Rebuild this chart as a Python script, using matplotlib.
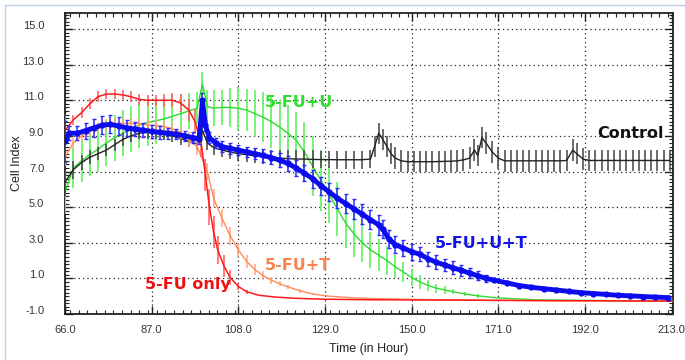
# Recrea la gráfica de Cell Index frente al tiempo (curvas de tratamiento)
import matplotlib
matplotlib.use('Agg')

import matplotlib.pyplot as plt
import matplotlib.transforms as mtransforms
from matplotlib.ticker import MultipleLocator
from matplotlib.lines import Line2D


# DATOS
# Cada punto: (tiempo en horas, cell index, barra de error)

# Control (negro)
control_pts = [
    (66, 6.4, 0.8), (68, 7.1, 0.5), (70, 7.5, 0.4), (72, 7.8, 0.4),
    (74, 8.0, 0.35), (76, 8.2, 0.35), (78, 8.5, 0.35), (80, 8.8, 0.35),
    (82, 9.0, 0.35), (84, 9.15, 0.35), (86, 9.2, 0.35), (88, 9.15, 0.35),
    (90, 9.1, 0.35), (92, 9.0, 0.35), (94, 8.85, 0.35), (96, 8.7, 0.35),
    (98, 8.55, 0.35), (99.3, 9.3, 0.4), (100.5, 8.6, 0.4), (102, 8.35, 0.4),
    (104, 8.2, 0.4), (106, 8.1, 0.4), (108, 8.0, 0.4), (110, 7.95, 0.4),
    (112, 7.88, 0.4), (114, 7.82, 0.4), (116, 7.78, 0.4), (118, 7.75, 0.45),
    (120, 7.72, 0.5), (122, 7.7, 0.5), (124, 7.7, 0.5), (126, 7.68, 0.5),
    (128, 7.67, 0.5), (130, 7.67, 0.5), (132, 7.66, 0.5), (134, 7.66, 0.5),
    (136, 7.66, 0.5), (138, 7.66, 0.5), (140, 7.7, 0.5), (141, 8.4, 0.6),
    (142, 9.15, 0.6), (143, 8.8, 0.6), (144, 8.4, 0.6), (145, 8.0, 0.6),
    (146, 7.75, 0.6), (147.5, 7.6, 0.6), (149, 7.55, 0.6), (150.5, 7.55, 0.6),
    (152, 7.55, 0.6), (153.5, 7.55, 0.6), (155, 7.55, 0.6), (156.5, 7.56, 0.6),
    (158, 7.57, 0.6), (159.5, 7.58, 0.6), (161, 7.6, 0.6), (162.5, 7.65, 0.6),
    (164, 7.75, 0.6), (165.2, 8.2, 0.6), (166, 7.9, 0.6), (167, 8.9, 0.6),
    (168, 8.6, 0.6), (169.5, 8.1, 0.6), (171, 7.75, 0.6), (172.5, 7.6, 0.6),
    (174, 7.6, 0.6), (175.5, 7.6, 0.6), (177, 7.6, 0.6), (178.5, 7.6, 0.6),
    (180, 7.6, 0.6), (181.5, 7.6, 0.6), (183, 7.6, 0.6), (184.5, 7.6, 0.6),
    (186, 7.6, 0.6), (187.5, 7.62, 0.6), (189, 8.2, 0.6), (190, 8.0, 0.6),
    (191.5, 7.7, 0.6), (193, 7.62, 0.6), (194.5, 7.62, 0.6), (196, 7.62, 0.6),
    (197.5, 7.62, 0.6), (199, 7.62, 0.6), (200.5, 7.62, 0.6), (202, 7.62, 0.6),
    (203.5, 7.62, 0.6), (205, 7.62, 0.6), (206.5, 7.62, 0.6), (208, 7.62, 0.6),
    (209.5, 7.62, 0.6), (211, 7.62, 0.6), (212.5, 7.62, 0.6),
]

# 5-FU+U (verde)
fuu_pts = [
    (66, 5.8, 1.2), (68, 7.2, 1.1), (70, 7.6, 1.2), (72, 7.95, 1.2),
    (74, 8.25, 1.3), (76, 8.6, 1.3), (78, 8.9, 1.3), (80, 9.15, 1.3),
    (82, 9.4, 1.3), (84, 9.6, 1.3), (86, 9.75, 1.3), (88, 9.85, 1.3),
    (90, 9.95, 1.2), (92, 10.1, 1.2), (94, 10.25, 1.1), (96, 10.4, 1.0),
    (98, 10.55, 0.9), (99.3, 11.9, 0.7), (100.5, 10.65, 0.9), (102, 10.55, 1.0),
    (104, 10.6, 1.0), (106, 10.6, 1.1), (108, 10.55, 1.2), (110, 10.45, 1.2),
    (112, 10.25, 1.3), (114, 10.05, 1.4), (116, 9.8, 1.5), (118, 9.5, 1.5),
    (120, 9.15, 1.6), (122, 8.75, 1.6), (124, 8.1, 1.7), (126, 7.3, 1.7),
    (128, 6.5, 1.7), (130, 5.7, 1.6), (132, 4.9, 1.5), (134, 4.1, 1.4),
    (136, 3.5, 1.3), (138, 3.0, 1.1), (140, 2.6, 1.0), (142, 2.3, 0.9),
    (144, 2.0, 0.8), (146, 1.65, 0.65), (148, 1.35, 0.55), (150, 1.05, 0.45),
    (152, 0.8, 0.38), (154, 0.6, 0.3), (156, 0.45, 0.25), (158, 0.35, 0.2),
    (160, 0.25, 0.15), (163, 0.12, 0.1), (166, 0.02, 0.1), (170, -0.08, 0),
    (175, -0.15, 0), (180, -0.2, 0), (190, -0.23, 0), (200, -0.25, 0),
    (213, -0.28, 0),
]

# 5-FU only (rojo)
fu_pts = [
    (66, 9.3, 0.9), (68, 9.9, 0.3), (70, 10.3, 0.3), (72, 10.8, 0.3),
    (74, 11.2, 0.3), (76, 11.35, 0.3), (78, 11.35, 0.3), (80, 11.3, 0.3),
    (82, 11.2, 0.3), (84, 11.05, 0.3), (86, 11.0, 0.3), (88, 11.0, 0.3),
    (90, 11.0, 0.35), (92, 11.0, 0.4), (94, 10.85, 0.5), (96, 10.45, 0.6),
    (97.5, 9.8, 0.7), (99, 8.6, 0.8), (100, 6.8, 0.9), (101, 5.0, 1.0),
    (102, 3.6, 0.9), (103, 2.6, 0.8), (104.5, 1.7, 0.6), (106, 1.05, 0.4),
    (108, 0.55, 0.2), (110, 0.25, 0.1), (113, 0.05, 0), (117, -0.05, 0),
    (122, -0.12, 0), (129, -0.17, 0), (140, -0.2, 0), (160, -0.22, 0),
    (180, -0.25, 0), (213, -0.27, 0),
]

# 5-FU+T (salmón)
fut_pts = [
    (66, 7.8, 0.5), (68, 8.6, 0.3), (70, 9.0, 0.3), (72, 9.25, 0.3),
    (74, 9.5, 0.3), (76, 9.65, 0.3), (78, 9.7, 0.3), (80, 9.7, 0.3),
    (82, 9.7, 0.3), (84, 9.68, 0.3), (86, 9.62, 0.3), (88, 9.58, 0.3),
    (90, 9.52, 0.3), (92, 9.4, 0.3), (94, 9.2, 0.35), (96, 8.8, 0.4),
    (98, 8.4, 0.5), (100.5, 7.0, 0.5), (102, 5.5, 0.5), (104, 4.4, 0.5),
    (106, 3.4, 0.5), (108, 2.6, 0.4), (110, 1.95, 0.35), (112, 1.5, 0.3),
    (114, 1.15, 0.25), (116, 0.9, 0.2), (118, 0.7, 0.15), (120, 0.52, 0.1),
    (123, 0.3, 0.1), (126, 0.12, 0.05), (130, 0.0, 0), (135, -0.08, 0),
    (140, -0.13, 0), (150, -0.18, 0), (165, -0.22, 0), (185, -0.25, 0),
    (213, -0.28, 0),
]

# 5-FU+U+T (azul)
fuut_pts = [
    (66, 8.7, 1.15), (67, 9.15, 0.4), (69, 9.15, 0.4), (71, 9.3, 0.45),
    (73, 9.45, 0.5), (75, 9.6, 0.5), (77, 9.65, 0.5), (79, 9.55, 0.5),
    (81, 9.45, 0.45), (83, 9.38, 0.4), (85, 9.32, 0.4), (87, 9.25, 0.35),
    (89, 9.2, 0.35), (91, 9.15, 0.3), (93, 9.1, 0.3), (95, 9.0, 0.3),
    (97, 8.9, 0.3), (98.5, 8.85, 0.3), (99.3, 11.0, 0.4), (100, 9.6, 0.3),
    (101, 8.9, 0.3), (102.5, 8.6, 0.3), (104, 8.4, 0.3), (106, 8.3, 0.3),
    (108, 8.2, 0.3), (110, 8.1, 0.3), (112, 8.0, 0.3), (114, 7.9, 0.35),
    (116, 7.78, 0.35), (118, 7.64, 0.4), (120, 7.45, 0.4), (122, 7.2, 0.45),
    (124, 6.9, 0.45), (126, 6.6, 0.5), (128, 6.2, 0.5), (130, 5.85, 0.5),
    (132, 5.5, 0.55), (134, 5.2, 0.55), (136, 4.9, 0.55), (138, 4.6, 0.55),
    (140, 4.3, 0.55), (142, 4.0, 0.55), (143, 3.75, 0.5), (144.5, 3.2, 0.5),
    (146, 2.9, 0.5), (148, 2.7, 0.45), (150, 2.5, 0.45), (152, 2.35, 0.4),
    (154, 2.1, 0.4), (156, 1.9, 0.4), (158, 1.75, 0.35), (160, 1.6, 0.35),
    (162, 1.45, 0.3), (164, 1.3, 0.3), (166, 1.15, 0.25), (168, 1.0, 0.2),
    (170, 0.9, 0), (173, 0.75, 0), (176, 0.6, 0), (179, 0.5, 0),
    (182, 0.42, 0), (185, 0.35, 0), (188, 0.27, 0), (191, 0.2, 0),
    (194, 0.15, 0), (197, 0.1, 0), (200, 0.05, 0), (203, 0.02, 0),
    (206, -0.02, 0), (209, -0.05, 0), (212, -0.08, 0),
]

# Etiquetas de ejes
x_ticks = [66.0, 87.0, 108.0, 129.0, 150.0, 171.0, 192.0, 213.0]
y_ticks = [-1.0, 1.0, 3.0, 5.0, 7.0, 9.0, 11.0, 13.0, 15.0]

# Rótulos de cada curva: (texto, x, y, color)
series_labels = [
    ("5-FU+U", 114.4, 10.85, "#2fe02f"),
    ("Control", 195.0, 9.15, "#111111"),
    ("5-FU+U+T", 155.6, 2.97, "#1414e6"),
    ("5-FU+T", 114.4, 1.72, "#f7844f"),
    ("5-FU only", 85.4, 0.65, "#ee1111"),
]


# GRÁFICA

def draw_series(ax, pts, **kw):
    # Separa las columnas y dibuja la curva con sus barras de error
    t = [p[0] for p in pts]
    v = [p[1] for p in pts]
    e = [p[2] for p in pts]
    ax.errorbar(t, v, yerr=e, **kw)


def plot_chart():

    fig = plt.figure(figsize=(6.85, 3.6), dpi=100)
    ax = fig.add_axes([65 / 685, 46 / 360, 608 / 685, 301 / 360])

    # Marco azul claro de la ventana original
    fig.add_artist(Line2D([4.5 / 685, 4.5 / 685], [0, 1 - 5 / 360],
                          transform=fig.transFigure, color="#bcd0e2", lw=1))
    fig.add_artist(Line2D([4.5 / 685, 1], [1 - 5 / 360, 1 - 5 / 360],
                          transform=fig.transFigure, color="#bcd0e2", lw=1))

    # Curvas con barras de error
    draw_series(ax, fuu_pts, color="#2edc2e", lw=1, ecolor="#6cf06c",
                elinewidth=1.3, capsize=0, zorder=3)
    draw_series(ax, control_pts, color="#222222", lw=1, ecolor="#444444",
                elinewidth=1.1, capsize=0, zorder=4)
    draw_series(ax, fut_pts, color="#ff8a5c", lw=1, ecolor="#ffa47e",
                elinewidth=1.1, capsize=0, zorder=5)
    draw_series(ax, fu_pts, color="#ff1a1a", lw=1.1, ecolor="#ff5a5a",
                elinewidth=1.1, capsize=0, zorder=6)
    draw_series(ax, fuut_pts, color="#0c0cee", lw=3.5, marker="o", ms=3.5,
                ecolor="#2a2aff", elinewidth=1.1, capsize=1.5, zorder=7)

    # Rótulos de las curvas
    for text, x, y, color in series_labels:
        ax.text(x, y, text, color=color, fontsize=11.5, fontweight="bold",
                ha="left", va="center", family="DejaVu Sans", zorder=8)

    # Ejes, límites y marcas
    ax.set_xlim(66, 213.3)
    ax.set_ylim(-1.0, 15.9)
    ax.set_xticks(x_ticks)
    ax.set_yticks(y_ticks)
    ax.set_xticklabels([f"{v:.1f}" for v in x_ticks])
    ax.set_yticklabels([f"{v:.1f}" for v in y_ticks])
    ax.xaxis.set_minor_locator(MultipleLocator(2.1))
    ax.yaxis.set_minor_locator(MultipleLocator(0.2))
    ax.tick_params(which="both", direction="in", top=True, right=True,
                   color="#222222")
    ax.tick_params(which="major", length=6, width=1)
    ax.tick_params(which="minor", length=3, width=0.8)
    ax.tick_params(axis="x", pad=8, labelsize=8, labelcolor="#333333")
    ax.tick_params(axis="y", pad=15, labelsize=8, labelcolor="#333333")
    for lab in ax.get_xticklabels() + ax.get_yticklabels():
        lab.set_family("Liberation Sans")

    # Desplaza un poco hacia arriba las etiquetas del eje Y
    shift = mtransforms.ScaledTranslation(0, 0.04, fig.dpi_scale_trans)
    for lab in ax.get_yticklabels():
        lab.set_transform(lab.get_transform() + shift)

    for spine in ax.spines.values():
        spine.set_color("#222222")
        spine.set_linewidth(1.3)

    ax.grid(True, which="major", color="#222222", lw=0.9,
            linestyle=(0, (1, 2.5)))

    ax.set_xlabel("Time (in Hour)", fontsize=9, family="Liberation Sans",
                  color="#222222", labelpad=6)
    ax.set_ylabel("Cell Index", fontsize=9, family="Liberation Sans",
                  color="#222222", labelpad=0)

    plt.savefig("out.png", dpi=100)


if __name__ == "__main__":
    plot_chart()
